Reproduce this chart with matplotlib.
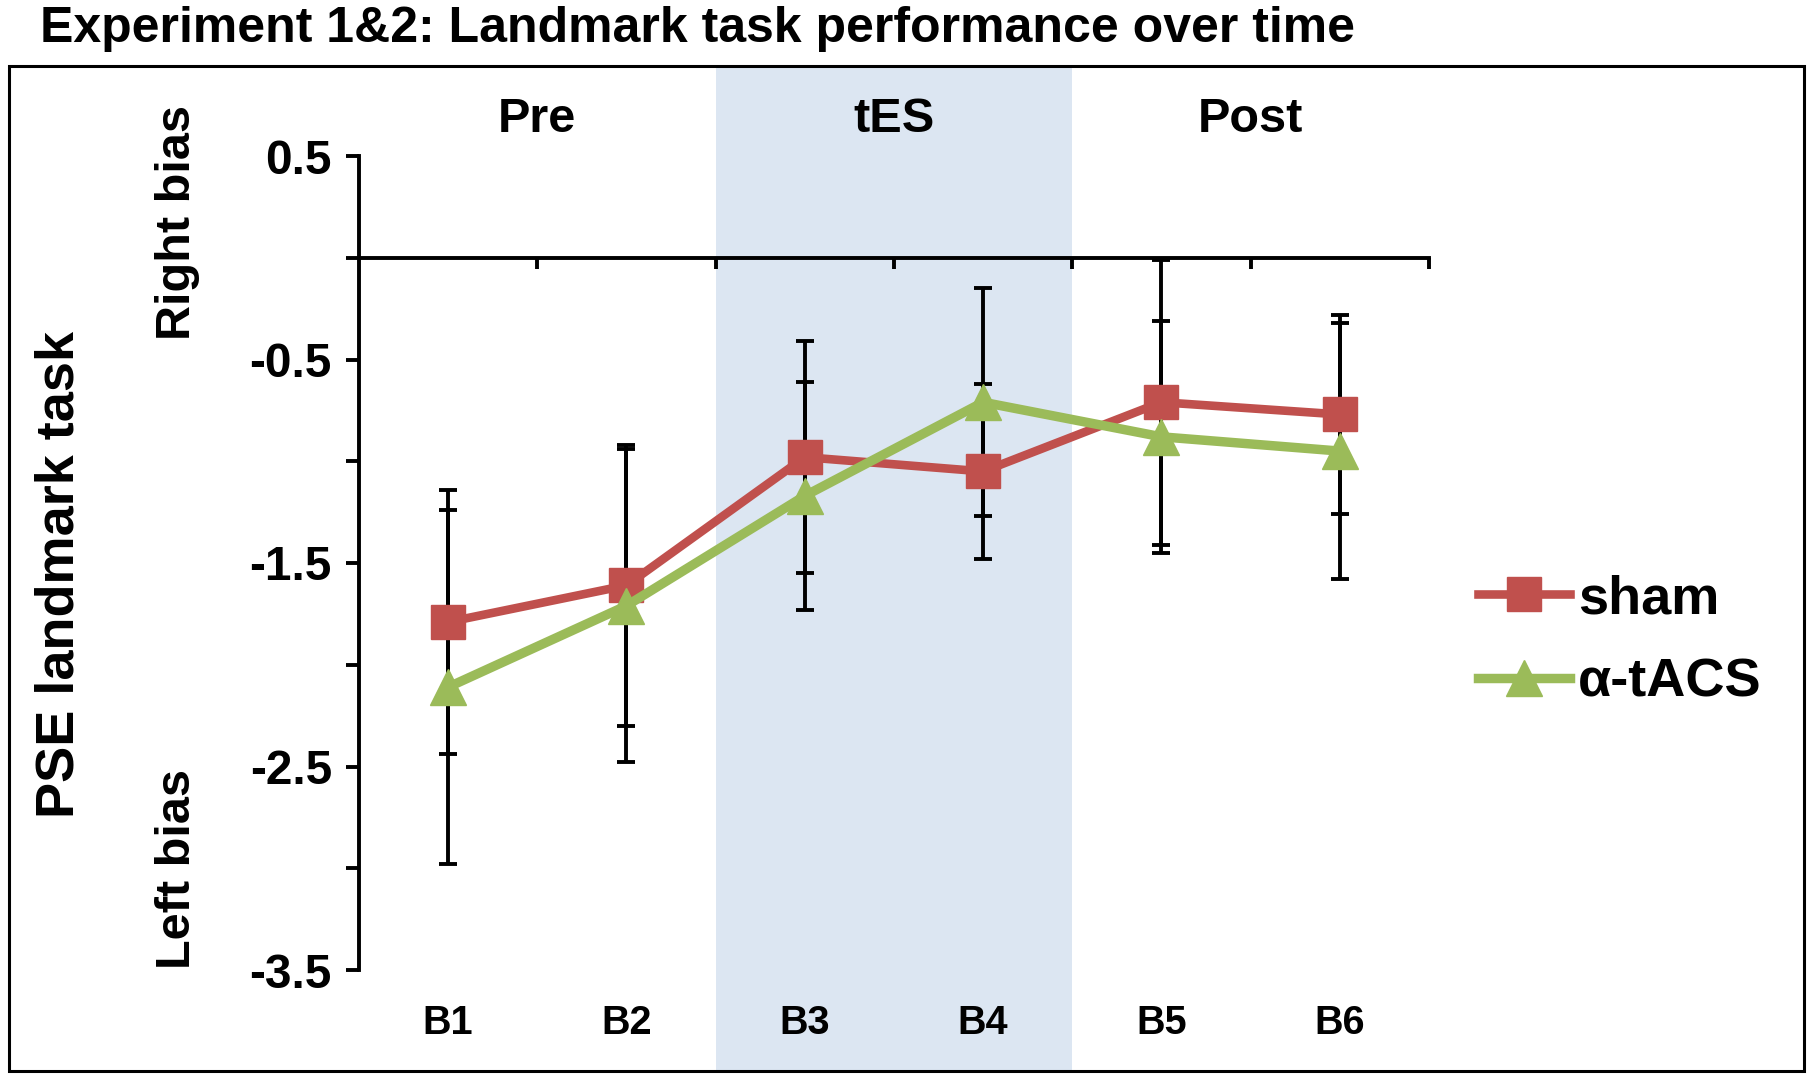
import numpy as np
import matplotlib
matplotlib.use("Agg")
import matplotlib.pyplot as plt
from matplotlib.patches import Rectangle
from matplotlib.transforms import blended_transform_factory

# data
blocks = ["B1", "B2", "B3", "B4", "B5", "B6"]
phases = ["Pre", "tES", "Post"]
phase_pos = [0.5, 2.5, 4.5]
stim_span = [1.5, 3.5]

sham_mean = [-1.79, -1.61, -0.98, -1.05, -0.71, -0.77]
sham_err = [0.65, 0.69, 0.57, 0.43, 0.70, 0.49]
tacs_mean = [-2.11, -1.71, -1.17, -0.71, -0.88, -0.95]
tacs_err = [0.87, 0.77, 0.56, 0.56, 0.57, 0.63]

RED = "#C0504D"
GREEN = "#9BBB59"
SHADE = "#DCE6F2"

plt.rcParams["font.family"] = ["Liberation Sans", "DejaVu Sans"]
plt.rcParams["font.weight"] = "bold"

W, H = 1811, 1081
fig = plt.figure(figsize=(W / 100, H / 100), dpi=100)
ax = fig.add_axes([359 / W, 1 - 970 / H, 1070 / W, 814 / H])
ax.patch.set_visible(False)

x = np.arange(len(blocks))

# stimulation period shading, spans the whole framed panel vertically
ax.add_patch(
    Rectangle(
        (stim_span[0], 9 / H),
        stim_span[1] - stim_span[0],
        1 - 75 / H,
        transform=blended_transform_factory(ax.transData, fig.transFigure),
        color=SHADE,
        lw=0,
        clip_on=False,
        zorder=0,
    )
)

for mean, err in [(sham_mean, sham_err), (tacs_mean, tacs_err)]:
    ax.errorbar(
        x, mean, yerr=err, fmt="none", ecolor="black",
        elinewidth=2.8, capsize=6.5, capthick=2.8, zorder=2,
    )

(l_sham,) = ax.plot(x, sham_mean, color=RED, lw=6.2, marker="s", ms=24,
                    label="sham", zorder=3)
(l_tacs,) = ax.plot(x, tacs_mean, color=GREEN, lw=6.8, marker="^", ms=26,
                    label="\u03b1-tACS", zorder=4)

ax.set_xlim(-0.5, len(blocks) - 0.5)
ax.set_ylim(-3.5, 0.5)

for side in ["top", "right"]:
    ax.spines[side].set_visible(False)
ax.spines["left"].set_linewidth(2.8)
ax.spines["bottom"].set_linewidth(2.8)
ax.spines["bottom"].set_position(("data", 0))

ax.set_xticks(np.arange(0.5, len(blocks), 1))
ax.set_xticklabels([])
ax.tick_params(axis="x", direction="out", length=8, width=2.8)

yt = np.arange(-3.5, 0.51, 0.5)
ax.set_yticks(yt)
ax.set_yticklabels([f"{v:.1f}" if i % 2 == 0 else "" for i, v in enumerate(yt)])
ax.tick_params(axis="y", direction="out", length=9.5, width=2.8, pad=10,
               labelsize=34.5)

for xi, lab in zip(x, blocks):
    ax.text(xi, -3.76, lab, ha="center", va="center", fontsize=28.5,
            fontweight="bold", clip_on=False)

for xp, lab in zip(phase_pos, phases):
    ax.text(xp, 0.68, lab, ha="center", va="center", fontsize=35,
            fontweight="bold", clip_on=False)

ax.legend(
    handles=[l_sham, l_tacs],
    loc="center left",
    bbox_to_anchor=(1478 / W, 1 - 641 / H),
    bbox_transform=fig.transFigure,
    frameon=False,
    fontsize=39,
    handlelength=1.7,
    handletextpad=0.15,
    labelspacing=0.62,
    borderpad=0,
    borderaxespad=0,
)

fig.text(40 / W, 1 - 42 / H, "Experiment 1&2: Landmark task performance over time",
         fontsize=36, fontweight="bold", ha="left", va="baseline")
fig.text(59 / W, 1 - 575 / H, "PSE landmark task", rotation=90, ha="center",
         va="center", fontsize=39, fontweight="bold")
fig.text(177 / W, 1 - 223 / H, "Right bias", rotation=90, ha="center",
         va="center", fontsize=35, fontweight="bold")
fig.text(177 / W, 1 - 869 / H, "Left bias", rotation=90, ha="center",
         va="center", fontsize=35, fontweight="bold")

fig.add_artist(Rectangle((9 / W, 10 / H), 1795 / W, 1005 / H,
                         transform=fig.transFigure, fill=False, lw=2.2,
                         ec="black"))

fig.savefig("out.png", dpi=100)
